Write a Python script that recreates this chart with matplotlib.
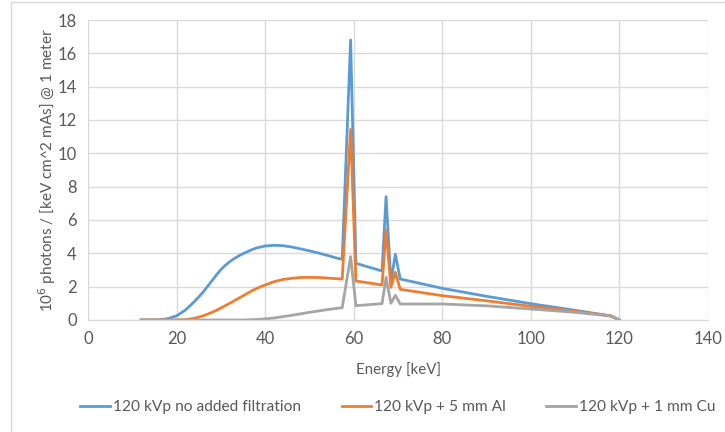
import matplotlib
matplotlib.use("Agg")
import matplotlib.pyplot as plt
from matplotlib.patches import Rectangle

# energy grid (keV) shared by all three spectra
energy = [12, 14, 16, 18, 20, 22, 24, 25, 26, 27, 28, 29, 30, 31, 32, 33, 34, 35,
          36, 37, 38, 39, 40, 42, 44, 46, 48, 50, 52, 54, 56, 57.4, 59.3, 60.5,
          66.4, 67.3, 68.4, 69.4, 70.5, 80, 90, 100, 110, 118, 120]

no_filter = [0, 0, 0.01, 0.08, 0.25, 0.6, 1.1, 1.38, 1.68, 2.02, 2.36, 2.7, 3.02,
             3.28, 3.5, 3.68, 3.84, 3.98, 4.1, 4.22, 4.32, 4.38, 4.44, 4.48, 4.46,
             4.38, 4.27, 4.15, 4.02, 3.88, 3.73, 3.64,
             16.8, 3.4, 2.94, 7.4, 2.3, 3.94, 2.46,
             1.9, 1.42, 0.98, 0.58, 0.25, 0]

al_5mm = [0, 0, 0, 0, 0, 0.02, 0.1, 0.17, 0.25, 0.35, 0.46, 0.58, 0.72, 0.86,
          1.0, 1.15, 1.3, 1.45, 1.6, 1.75, 1.88, 2.0, 2.1, 2.3, 2.43, 2.5, 2.55,
          2.56, 2.55, 2.52, 2.48, 2.46,
          11.44, 2.34, 2.1, 5.4, 1.96, 2.86, 1.84,
          1.46, 1.15, 0.82, 0.52, 0.25, 0]

cu_1mm = [0, 0, 0, 0, 0, 0, 0, 0, 0, 0, 0, 0, 0, 0, 0, 0, 0, 0, 0.01, 0.02, 0.03,
          0.05, 0.07, 0.12, 0.2, 0.28, 0.37, 0.46, 0.54, 0.62, 0.69, 0.74,
          3.8, 0.86, 0.98, 2.56, 1.0, 1.48, 0.96,
          0.96, 0.85, 0.66, 0.46, 0.24, 0]

labels = ["120 kVp no added filtration", "120 kVp + 5 mm Al", "120 kVp + 1 mm Cu"]
colors = ["#5B9BD5", "#ED7D31", "#A5A5A5"]

plt.rcParams["font.family"] = ["Lato", "DejaVu Sans"]
txt = "#595959"

fig = plt.figure(figsize=(7.25, 4.32), dpi=100)
ax = fig.add_axes([88 / 725, 1 - 320 / 432, 620 / 725, 300 / 432])

for ys, lab, c in zip([no_filter, al_5mm, cu_1mm], labels, colors):
    ax.plot(energy, ys, color=c, lw=2.0, label=lab, solid_joinstyle="round")

ax.set_xlim(0, 140)
ax.set_ylim(0, 18)
ax.set_xticks(range(0, 141, 20))
ax.set_yticks(range(0, 19, 2))
ax.grid(True, color="#D9D9D9", lw=1)
ax.set_axisbelow(True)
for s in ["top", "right", "left"]:
    ax.spines[s].set_visible(False)
ax.spines["bottom"].set_color("#D9D9D9")
ax.tick_params(length=0, labelsize=12, colors=txt, pad=8)

ax.set_xlabel("Energy [keV]", fontsize=10.8, color=txt, labelpad=11)
ax.set_ylabel("10$^6$ photons / [keV cm^2 mAs] @ 1 meter", fontsize=11,
              color=txt, labelpad=0)

ax.legend(loc="upper center", bbox_to_anchor=(0.5, -0.22), ncol=3, frameon=False,
          fontsize=11.2, labelcolor=txt, handlelength=1.9, handletextpad=0.2,
          columnspacing=2.6)

# chart border
fig.patches.append(Rectangle((11 / 725, -0.1), 1.2, 1 - 2 / 432 + 0.1,
                             transform=fig.transFigure, fill=False,
                             edgecolor="#D9D9D9", lw=1))

fig.savefig("out.png", dpi=100)
